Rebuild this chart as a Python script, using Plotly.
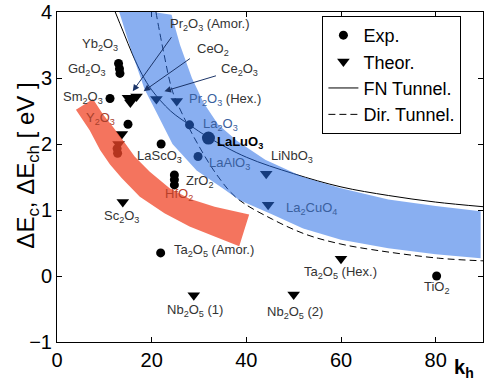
import plotly.graph_objects as go

# ---- measured band offsets -------------------------------------------------
# experimental points (k, dE)
exp_k = [13.0, 13.2, 13.3, 11.2, 15.0, 12.7, 12.8, 22.0, 24.8, 24.8, 24.8, 28.0, 29.8, 21.9, 80.2]
exp_e = [3.22, 3.14, 3.07, 2.69, 2.30, 1.93, 1.86, 2.00, 1.53, 1.46, 1.38, 2.29, 1.81, 0.35, 0.00]
# LaLuO3 (highlighted)
lalu_k = [32.0]
lalu_e = [2.09]

# theoretical points (k, dE)
theo_k = [15.0, 15.9, 16.8, 15.5, 21.0, 25.3, 13.7, 13.0, 13.9, 44.2, 44.6, 28.9, 50.0, 60.0]
theo_e = [2.70, 2.69, 2.72, 2.63, 2.68, 2.65, 2.15, 2.00, 1.12, 1.55, 1.08, -0.29, -0.28, 0.26]

# tunnelling limits
fn_k = [12.3, 14, 16, 18, 20, 24, 28, 32, 40, 50, 60, 70, 80, 90]
fn_e = [4.0, 3.7, 3.35, 3.05, 2.82, 2.5, 2.29, 2.1, 1.8, 1.55, 1.35, 1.22, 1.12, 1.05]
dir_k = [20.9, 22.5, 24.4, 26.5, 29.5, 33.7, 38.0, 45.5, 52.6, 59.6, 66.5, 80.6, 90.0]
dir_e = [4.0, 3.4, 2.8, 2.45, 2.03, 1.54, 1.18, 0.86, 0.63, 0.49, 0.40, 0.27, 0.23]

# shaded regions (outline going along one edge and back along the other)
blue_k = [12.8, 24.2, 26.0, 28.5, 31.0, 34.0, 38.0, 44.0, 52.0, 60.0, 70.0, 80.0, 89.5,
          89.5, 80.0, 70.0, 60.0, 52.0, 45.5, 38.5, 35.0, 29.5, 24.4, 21.0, 18.5, 15.8]
blue_e = [4.08, 3.96, 3.5, 3.0, 2.62, 2.3, 2.05, 1.76, 1.5, 1.33, 1.16, 1.06, 0.98,
          0.27, 0.33, 0.42, 0.55, 0.72, 0.93, 1.15, 1.33, 1.6, 2.0, 2.48, 2.83, 3.39]
red_k = [7.6, 9.7, 11.8, 13.7, 16.4, 19.6, 23.8, 28.0, 33.3, 40.6,
         38.5, 33.3, 28.0, 22.7, 17.5, 13.7, 11.2, 9.1, 6.9, 4.0]
red_e = [2.68, 2.45, 2.26, 2.08, 1.81, 1.58, 1.33, 1.17, 1.05, 0.93,
         0.45, 0.60, 0.75, 0.95, 1.20, 1.48, 1.69, 1.91, 2.21, 2.52]

# axis ticks
x_ticks = [0, 20, 40, 60, 80]
y_ticks = [-1, 0, 1, 2, 3, 4]

# material labels: text, k, dE, anchor
BLUE_TXT = "#3a5f9e"
label_text = ["Yb<sub>2</sub>O<sub>3</sub>", "Gd<sub>2</sub>O<sub>3</sub>", "Sm<sub>2</sub>O<sub>3</sub>",
              "Y<sub>2</sub>O<sub>3</sub>", "LaScO<sub>3</sub>", "ZrO<sub>2</sub>", "HfO<sub>2</sub>",
              "Sc<sub>2</sub>O<sub>3</sub>", "Ta<sub>2</sub>O<sub>5</sub> (Amor.)",
              "Nb<sub>2</sub>O<sub>5</sub> (1)", "Nb<sub>2</sub>O<sub>5</sub> (2)",
              "Ta<sub>2</sub>O<sub>5</sub> (Hex.)", "TiO<sub>2</sub>", "La<sub>2</sub>CuO<sub>4</sub>",
              "LiNbO<sub>3</sub>", "LaAlO<sub>3</sub>", "<b>LaLuO<sub>3</sub></b>",
              "La<sub>2</sub>O<sub>3</sub>",
              "<span style='color:%s'>Pr<sub>2</sub>O<sub>3</sub></span> (Hex.)" % BLUE_TXT,
              "Pr<sub>2</sub>O<sub>3</sub> (Amor.)", "CeO<sub>2</sub>", "Ce<sub>2</sub>O<sub>3</sub>"]
label_k = [13.4, 10.8, 10.2, 9.1, 16.4, 26.9, 22.3, 13.7, 24.2, 29.2, 50.3, 59.8, 80.2, 48.0,
           44.8, 31.6, 33.3, 30.5, 27.4, 23.4, 29.1, 34.3]
label_e = [3.51, 3.13, 2.71, 2.38, 1.81, 1.43, 1.23, 0.90, 0.38, -0.53, -0.56, 0.05, -0.18, 1.02,
           1.81, 1.70, 2.03, 2.29, 2.68, 3.81, 3.43, 3.13]
label_anchor = ["right", "right", "right", "center", "left", "left", "left", "center", "left",
                "center", "center", "center", "center", "left", "left", "left", "left", "left",
                "left", "left", "left", "left"]
label_color = ["#333", "#333", "#333", "#a8402c", "#333", "#333", "#b8402a", "#333", "#333",
               "#333", "#333", "#333", "#333", BLUE_TXT, "#333", BLUE_TXT, "#000", BLUE_TXT,
               "#333", "#333", "#333", "#333"]

# arrows from labels to the rare-earth cluster: head (k, dE), tail (k, dE)
arrow_head_k = [16.0, 18.3, 22.7]
arrow_head_e = [2.80, 2.80, 2.80]
arrow_tail_k = [24.4, 28.4, 33.9]
arrow_tail_e = [3.64, 3.31, 3.04]

FONT = "Arial, Liberation Sans, sans-serif"

fig = go.Figure()

fig.add_trace(go.Scatter(x=exp_k, y=exp_e, mode="markers", name="Exp.",
                         marker=dict(symbol="circle", size=9, color="black")))
fig.add_trace(go.Scatter(x=lalu_k, y=lalu_e, mode="markers", showlegend=False,
                         marker=dict(symbol="circle", size=13, color="black")))
fig.add_trace(go.Scatter(x=theo_k, y=theo_e, mode="markers", name="Theor.",
                         marker=dict(symbol="triangle-down", size=11, color="black")))
fig.add_trace(go.Scatter(x=fn_k, y=fn_e, mode="lines", name="FN Tunnel.",
                         line=dict(color="black", width=1, shape="spline")))
fig.add_trace(go.Scatter(x=dir_k, y=dir_e, mode="lines", name="Dir. Tunnel.",
                         line=dict(color="black", width=1, dash="7px,4px", shape="spline")))


def outline(ks, es):
    pts = ["%s%.3f,%.3f" % ("M" if i == 0 else "L", k, e) for i, (k, e) in enumerate(zip(ks, es))]
    return " ".join(pts) + " Z"


shapes = [
    dict(type="path", path=outline(blue_k, blue_e), xref="x", yref="y", layer="above",
         fillcolor="rgba(40,110,230,0.55)", line=dict(width=0)),
    dict(type="path", path=outline(red_k, red_e), xref="x", yref="y", layer="above",
         fillcolor="rgba(240,70,40,0.75)", line=dict(width=0)),
]

annotations = []
for t, k, e, a, c in zip(label_text, label_k, label_e, label_anchor, label_color):
    annotations.append(dict(x=k, y=e, xref="x", yref="y", text=t, showarrow=False,
                            xanchor=a, yanchor="middle",
                            font=dict(family=FONT, size=13, color=c)))
for hk, he, tk, te in zip(arrow_head_k, arrow_head_e, arrow_tail_k, arrow_tail_e):
    annotations.append(dict(x=hk, y=he, ax=tk, ay=te, xref="x", yref="y", axref="x", ayref="y",
                            text="", showarrow=True, arrowhead=2, arrowsize=1.3, arrowwidth=1,
                            arrowcolor="#1b3468"))
# axis titles
annotations.append(dict(x=0.955, y=-0.08, xref="paper", yref="paper", text="<b>k<sub>h</sub></b>",
                        showarrow=False, xanchor="center", yanchor="middle",
                        font=dict(family=FONT, size=20, color="black")))
annotations.append(dict(x=-0.07, y=0.535, xref="paper", yref="paper",
                        text="\u0394E<sub>c</sub>, \u0394E<sub>ch</sub> [ eV ]",
                        textangle=-90, showarrow=False, xanchor="center", yanchor="middle",
                        font=dict(family=FONT, size=24, color="black")))

axis_common = dict(showline=True, linecolor="black", linewidth=1, mirror="ticks",
                   ticks="inside", ticklen=5, tickcolor="black", showgrid=False, zeroline=False,
                   ticklabeloverflow="allow",
                   tickfont=dict(family=FONT, size=20, color="black"))

fig.update_layout(
    width=485, height=383,
    margin=dict(l=57, r=1, t=10, b=41),
    paper_bgcolor="white", plot_bgcolor="white",
    xaxis=dict(range=[0, 90], tickvals=x_ticks, **axis_common),
    yaxis=dict(range=[-1, 4], tickvals=y_ticks, **axis_common),
    legend=dict(x=0.623, y=0.988, xanchor="left", yanchor="top",
                bgcolor="white", bordercolor="black", borderwidth=1,
                font=dict(family=FONT, size=18, color="black"),
                tracegroupgap=0, itemwidth=30),
    shapes=shapes,
    annotations=annotations,
    showlegend=True,
)

fig.write_html("out.html")
